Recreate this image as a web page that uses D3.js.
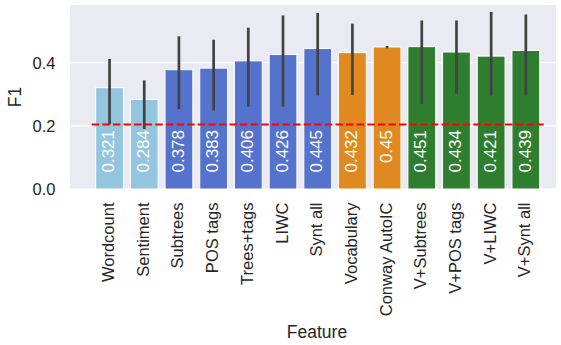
<!DOCTYPE html>
<html>
<head>
<meta charset="utf-8">
<script src="https://cdn.jsdelivr.net/npm/d3@7"></script>
<style>
  html, body { margin: 0; padding: 0; background: #ffffff; }
  svg { display: block; font-family: "Liberation Sans", Arial, sans-serif; }
</style>
</head>
<body>
<svg id="chart" width="561" height="345"></svg>
<script>
// Feature sets and their mean F1 scores
const features = ["Wordcount", "Sentiment", "Subtrees", "POS tags", "Trees+tags", "LIWC",
  "Synt all", "Vocabulary", "Conway AutoIC", "V+Subtrees", "V+POS tags", "V+LIWC", "V+Synt all"];
const f1Mean = [0.321, 0.284, 0.378, 0.383, 0.406, 0.426, 0.445, 0.432, 0.45, 0.451, 0.434, 0.421, 0.439];
// Confidence interval bounds
const ciLow  = [0.205, 0.190, 0.253, 0.249, 0.261, 0.261, 0.296, 0.298, 0.446, 0.269, 0.302, 0.296, 0.296];
const ciHigh = [0.412, 0.344, 0.484, 0.473, 0.511, 0.550, 0.558, 0.524, 0.453, 0.534, 0.534, 0.561, 0.553];
// Feature group for each bar
const groups = ["base", "base", "synt", "synt", "synt", "synt", "synt", "vocab", "vocab",
  "combo", "combo", "combo", "combo"];
const groupColors = { base: "#93c6de", synt: "#5573cd", vocab: "#df8920", combo: "#2f7e2f" };
const baseline = 0.204;
const yTicks = [0.0, 0.2, 0.4];

const svg = d3.select("#chart");
const plot = { left: 70, right: 556, top: 5, bottom: 189 };

// band step equals full category width; bars use 80% of it
const x = d3.scaleBand()
  .domain(features)
  .range([92.2, 543.2])
  .paddingInner(0.2)
  .paddingOuter(0.1);
const y = d3.scaleLinear().domain([0, 0.583]).range([plot.bottom, plot.top]);

// Plot background
svg.append("rect")
  .attr("x", plot.left).attr("y", plot.top)
  .attr("width", plot.right - plot.left).attr("height", plot.bottom - plot.top)
  .attr("fill", "#eaeaf2");

// Horizontal grid lines
svg.append("g").selectAll("line").data(yTicks).join("line")
  .attr("x1", plot.left).attr("x2", plot.right)
  .attr("y1", d => y(d)).attr("y2", d => y(d))
  .attr("stroke", "#ffffff").attr("stroke-width", 1.2);

const data = features.map((f, i) => ({
  f, v: f1Mean[i], lo: ciLow[i], hi: ciHigh[i], g: groups[i]
}));

// Bars
svg.append("g").selectAll("rect").data(data).join("rect")
  .attr("x", d => x(d.f))
  .attr("y", d => y(d.v))
  .attr("width", x.bandwidth())
  .attr("height", d => y(0) - y(d.v))
  .attr("fill", d => groupColors[d.g])
  .attr("stroke", "#ffffff").attr("stroke-width", 1);

// Error bars
svg.append("g").selectAll("line").data(data).join("line")
  .attr("x1", d => x(d.f) + x.bandwidth() / 2)
  .attr("x2", d => x(d.f) + x.bandwidth() / 2)
  .attr("y1", d => y(d.lo)).attr("y2", d => y(d.hi))
  .attr("stroke", "#424242").attr("stroke-width", 2.7);

// Baseline reference line
svg.append("line")
  .attr("x1", x(features[0]) - x.step() * 0.1 - 0.5)
  .attr("x2", x(features[features.length - 1]) + x.bandwidth() + x.step() * 0.1 + 0.5)
  .attr("y1", y(baseline)).attr("y2", y(baseline))
  .attr("stroke", "#ff0000").attr("stroke-width", 2)
  .attr("stroke-dasharray", "7.4,3.2");

// Value labels inside bars
svg.append("g").selectAll("text").data(data).join("text")
  .attr("transform", d => `translate(${x(d.f) + x.bandwidth() / 2 - 0.8},130) rotate(-90)`)
  .attr("text-anchor", "end")
  .attr("dominant-baseline", "central")
  .attr("fill", "#ffffff")
  .attr("font-size", 17)
  .text(d => String(d.v));

// Y tick labels
svg.append("g").selectAll("text").data(yTicks).join("text")
  .attr("x", 55.5).attr("y", d => y(d))
  .attr("text-anchor", "end")
  .attr("dominant-baseline", "central")
  .attr("fill", "#262626")
  .attr("font-size", 16.5)
  .text(d => d.toFixed(1));

// X tick labels
svg.append("g").selectAll("text").data(features).join("text")
  .attr("transform", d => `translate(${x(d) + x.bandwidth() / 2 - 1.5},202.5) rotate(-90)`)
  .attr("text-anchor", "end")
  .attr("dominant-baseline", "central")
  .attr("fill", "#262626")
  .attr("font-size", 16.5)
  .text(d => d);

// Axis titles
svg.append("text")
  .attr("transform", `translate(15,${(plot.top + plot.bottom) / 2}) rotate(-90)`)
  .attr("text-anchor", "middle")
  .attr("dominant-baseline", "central")
  .attr("fill", "#262626")
  .attr("font-size", 17.5)
  .text("F1");

svg.append("text")
  .attr("x", (plot.left + plot.right) / 2 + 4)
  .attr("y", 338)
  .attr("text-anchor", "middle")
  .attr("fill", "#262626")
  .attr("font-size", 17.5)
  .text("Feature");
</script>
</body>
</html>
